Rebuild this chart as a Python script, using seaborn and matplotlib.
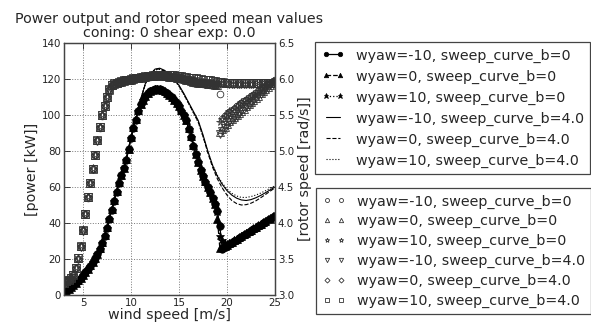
import numpy as np
import pandas as pd
import matplotlib
matplotlib.use("Agg")
import matplotlib.pyplot as plt
import seaborn as sns

# ---------------- data ----------------
wind = [3.0 + 0.25 * i for i in range(89)]          # 3 .. 25 m/s, marker series
wind_line = [3.0 + 0.5 * i for i in range(45)]      # 3 .. 25 m/s, plain line series

power_m10_b0 = [1.0, 2.0, 3.2, 4.3, 5.5, 6.8, 8.0, 9.5, 11.0, 12.7, 14.5, 16.3, 18.2, 20.3, 22.8, 25.8, 29.0, 33.0, 37.5, 42.3,
                47.5, 52.5, 57.5, 62.5, 66.5, 70.5, 75.0, 81.0, 87.5, 93.0, 97.5, 102.5, 106.0, 108.5, 110.5, 112.0, 113.2, 114.0,
                114.5, 114.5, 114.2, 113.7, 113.0, 112.0, 111.0, 109.8, 108.5, 106.8,
                105.0, 102.5, 100.0, 97.0, 92.5, 88.0, 83.0, 78.5, 74.0, 69.5, 66.0, 63.0, 60.0, 57.0, 54.0, 50.5, 46.5,
                38.5,
                25.8, 26.5, 27.3, 28.1, 29.0, 29.8, 30.6, 31.5, 32.3, 33.2, 34.0, 34.8, 35.7, 36.5, 37.4, 38.2, 39.0, 39.9, 40.7,
                41.5, 42.4, 43.2, 44.0]
power_0_b0 = [1.1, 2.1, 3.3, 4.4, 5.6, 6.9, 8.1, 9.6, 11.1, 12.8, 14.6, 16.4, 18.3, 20.5, 23.0, 26.0, 29.3, 33.3, 37.8, 42.6,
              47.8, 52.8, 57.8, 62.8, 66.8, 70.8, 75.3, 81.3, 87.8, 93.3, 97.8, 102.7, 106.2, 108.6, 110.6, 112.1, 113.3, 114.1,
              114.6, 114.6, 114.3, 113.8, 113.1, 112.1, 111.1, 109.9, 108.6, 106.9,
              105.1, 102.6, 100.1, 97.1, 92.6, 88.1, 83.1, 78.6, 74.1, 69.6, 66.1, 63.1, 60.1, 57.1, 54.1, 50.6, 42.5,
              26.0,
              26.6, 27.2, 28.0, 28.8, 29.6, 30.4, 31.2, 32.1, 32.9, 33.8, 34.6, 35.4, 36.3, 37.1, 38.0, 38.8, 39.6, 40.5, 41.3,
              42.1, 43.0, 43.8, 44.6]
power_10_b0 = [0.9, 1.9, 3.1, 4.2, 5.4, 6.7, 7.9, 9.4, 10.9, 12.6, 14.4, 16.2, 18.1, 20.2, 22.7, 25.7, 28.9, 32.8, 37.3, 42.1,
               47.3, 52.3, 57.3, 62.3, 66.3, 70.3, 74.8, 80.8, 87.3, 92.8, 97.3, 102.3, 105.8, 108.4, 110.4, 111.9, 113.1, 113.9,
               114.4, 114.4, 114.1, 113.6, 112.9, 111.9, 110.9, 109.7, 108.4, 106.7,
               104.9, 102.4, 99.9, 96.9, 92.4, 87.9, 82.9, 78.4, 73.9, 69.4, 65.9, 62.9, 59.9, 56.9, 53.9, 50.4, 46.0,
               33.0,
               30.5, 28.8, 28.5, 29.0, 29.6, 30.3, 31.0, 31.8, 32.6, 33.4, 34.2, 35.0, 35.8, 36.6, 37.5, 38.3, 39.1, 39.9, 40.8,
               41.6, 42.4, 43.2, 44.0]

power_m10_b4 = [1.0, 3.2, 5.5, 8.0, 11.0, 14.5, 18.2, 22.8, 29.0, 37.5, 47.5, 57.5, 66.5, 75.0, 87.5, 98.0, 108.5, 117.5,
                122.5, 125.5, 126.0, 124.8, 122.5, 120.0, 116.5, 112.0, 107.0, 102.0, 97.0, 89.0, 80.0, 72.0, 66.0, 61.5,
                58.0, 55.5, 53.8, 52.8, 52.5, 53.0, 54.0, 55.3, 56.8, 58.4, 60.0]
power_0_b4 = [1.0, 3.2, 5.5, 8.0, 11.0, 14.5, 18.2, 22.8, 29.0, 37.5, 47.5, 57.5, 66.5, 75.0, 87.5, 98.0, 108.3, 117.3,
              122.3, 125.3, 125.6, 124.4, 122.1, 119.6, 116.2, 111.6, 106.5, 101.4, 96.2, 88.2, 79.0, 71.0, 64.5, 59.5,
              55.5, 52.5, 50.8, 50.0, 50.2, 51.0, 52.3, 54.0, 55.8, 57.7, 59.5]
power_10_b4 = [1.0, 3.2, 5.5, 8.0, 11.0, 14.5, 18.2, 22.8, 29.0, 37.5, 47.5, 57.5, 66.5, 75.0, 87.5, 98.0, 108.7, 117.8,
               122.8, 125.0, 125.3, 124.0, 121.8, 119.4, 116.0, 111.4, 106.4, 101.2, 96.0, 88.0, 79.5, 72.2, 66.5, 62.2,
               58.8, 56.5, 55.0, 54.2, 54.2, 54.7, 55.5, 56.6, 57.9, 59.3, 60.7]

rotor_m10_b0 = [3.15, 3.18, 3.21, 3.24, 3.28, 3.37, 3.50, 3.67, 3.89, 4.12, 4.35, 4.55, 4.75, 4.94, 5.14, 5.32, 5.49, 5.62, 5.74, 5.85,
                5.90, 5.93, 5.94, 5.95, 5.96, 5.97, 5.97, 5.98, 5.99, 6.00, 6.01, 6.01, 6.02, 6.02, 6.03, 6.03, 6.03, 6.04, 6.04, 6.04,
                6.04, 6.04, 6.04, 6.03, 6.03, 6.03, 6.02, 6.02,
                6.01, 6.00, 5.99, 5.98, 5.97, 5.96, 5.95, 5.95, 5.94, 5.94, 5.93, 5.93, 5.93, 5.92, 5.92, 5.92, 5.91,
                5.79,
                5.44, 5.48, 5.51, 5.54, 5.56, 5.59, 5.62, 5.64, 5.67, 5.69, 5.71, 5.73, 5.76, 5.78, 5.80, 5.83, 5.85, 5.88, 5.90,
                5.92, 5.94, 5.96, 5.98]
rotor_0_b0 = [3.16, 3.19, 3.22, 3.25, 3.29, 3.38, 3.51, 3.68, 3.90, 4.13, 4.36, 4.56, 4.76, 4.95, 5.15, 5.33, 5.50, 5.63, 5.75, 5.85,
              5.91, 5.93, 5.95, 5.96, 5.96, 5.97, 5.98, 5.98, 5.99, 6.00, 6.01, 6.02, 6.02, 6.03, 6.03, 6.04, 6.04, 6.04, 6.04, 6.05,
              6.05, 6.04, 6.04, 6.04, 6.03, 6.03, 6.03, 6.02,
              6.02, 6.01, 6.00, 5.99, 5.98, 5.97, 5.96, 5.96, 5.95, 5.95, 5.94, 5.94, 5.93, 5.93, 5.93, 5.92, 5.92,
              5.26, 5.30, 5.34, 5.38, 5.41, 5.44, 5.47, 5.50, 5.53, 5.56, 5.59, 5.62, 5.65, 5.68, 5.71, 5.74, 5.77, 5.80, 5.83,
              5.86, 5.89, 5.92, 5.94, 5.97]
rotor_10_b0 = [3.15, 3.19, 3.21, 3.24, 3.28, 3.38, 3.50, 3.68, 3.90, 4.12, 4.36, 4.55, 4.75, 4.95, 5.15, 5.33, 5.50, 5.63, 5.75, 5.86,
               5.91, 5.94, 5.95, 5.96, 5.97, 5.97, 5.98, 5.99, 6.00, 6.00, 6.01, 6.02, 6.02, 6.03, 6.03, 6.04, 6.04, 6.04, 6.05, 6.05,
               6.05, 6.05, 6.04, 6.04, 6.04, 6.03, 6.03, 6.03,
               6.02, 6.01, 6.00, 5.99, 5.98, 5.98, 5.97, 5.96, 5.96, 5.95, 5.95, 5.94, 5.94, 5.94, 5.93, 5.93, 5.93,
               5.40, 5.45, 5.49, 5.52, 5.55, 5.57, 5.60, 5.63, 5.65, 5.68, 5.70, 5.72, 5.74, 5.77, 5.79, 5.81, 5.84, 5.86, 5.89,
               5.91, 5.93, 5.95, 5.97, 5.99]
rotor_m10_b4 = [3.16, 3.19, 3.21, 3.24, 3.28, 3.37, 3.51, 3.67, 3.89, 4.13, 4.36, 4.55, 4.75, 4.95, 5.14, 5.33, 5.50, 5.62, 5.75, 5.85,
                5.91, 5.93, 5.94, 5.95, 5.96, 5.97, 5.98, 5.98, 5.99, 6.00, 6.01, 6.02, 6.02, 6.03, 6.03, 6.03, 6.04, 6.04, 6.04, 6.04,
                6.04, 6.04, 6.04, 6.03, 6.03, 6.03, 6.02, 6.02,
                6.01, 6.00, 5.99, 5.98, 5.97, 5.97, 5.96, 5.95, 5.95, 5.94, 5.94, 5.93, 5.93, 5.93, 5.92, 5.92, 5.92,
                5.24, 5.28, 5.32, 5.36, 5.40, 5.43, 5.46, 5.49, 5.52, 5.55, 5.58, 5.61, 5.64, 5.67, 5.70, 5.73, 5.76, 5.79, 5.82,
                5.85, 5.88, 5.91, 5.93, 5.96]
rotor_0_b4 = [3.16, 3.19, 3.21, 3.24, 3.28, 3.38, 3.50, 3.68, 3.90, 4.13, 4.36, 4.55, 4.75, 4.95, 5.15, 5.33, 5.50, 5.63, 5.75, 5.86,
              5.91, 5.94, 5.95, 5.96, 5.97, 5.98, 5.98, 5.99, 6.00, 6.01, 6.02, 6.02, 6.03, 6.03, 6.04, 6.04, 6.04, 6.05, 6.05, 6.05,
              6.05, 6.05, 6.05, 6.05, 6.05, 6.05, 6.04, 6.04,
              6.03, 6.02, 6.01, 6.00, 6.00, 5.99, 5.98, 5.97, 5.97, 5.96, 5.96, 5.95, 5.95, 5.95, 5.94, 5.94, 5.94,
              5.94, 5.94, 5.94, 5.94, 5.93, 5.93, 5.93, 5.93, 5.93, 5.93, 5.93, 5.93, 5.93, 5.93, 5.93, 5.93, 5.94, 5.94, 5.94,
              5.94, 5.94, 5.94, 5.94, 5.94]
rotor_10_b4 = [3.16, 3.19, 3.21, 3.24, 3.28, 3.38, 3.51, 3.68, 3.90, 4.13, 4.36, 4.55, 4.75, 4.95, 5.15, 5.33, 5.50, 5.63, 5.75, 5.86,
               5.91, 5.94, 5.95, 5.96, 5.97, 5.98, 5.98, 5.99, 6.00, 6.01, 6.02, 6.02, 6.03, 6.03, 6.04, 6.04, 6.04, 6.05, 6.05, 6.05,
               6.05, 6.05, 6.05, 6.05, 6.05, 6.05, 6.05, 6.04,
               6.04, 6.04, 6.03, 6.03, 6.02, 6.02, 6.01, 6.01, 6.00, 6.00, 5.99, 5.99, 5.98, 5.98, 5.97, 5.97, 5.96,
               5.96, 5.96, 5.95, 5.95, 5.95, 5.95, 5.95, 5.95, 5.94, 5.94, 5.94, 5.94, 5.94, 5.94, 5.94, 5.94, 5.94, 5.95, 5.95,
               5.95, 5.95, 5.95, 5.95, 5.95]

labels = ["wyaw=-10, sweep_curve_b=0", "wyaw=0, sweep_curve_b=0", "wyaw=10, sweep_curve_b=0",
          "wyaw=-10, sweep_curve_b=4.0", "wyaw=0, sweep_curve_b=4.0", "wyaw=10, sweep_curve_b=4.0"]
title_text = "Power output and rotor speed mean values\nconing: 0 shear exp: 0.0"
power_ticks = [0, 20, 40, 60, 80, 100, 120, 140]
rotor_ticks = [3.0, 3.5, 4.0, 4.5, 5.0, 5.5, 6.0, 6.5]
wind_ticks = [5, 10, 15, 20, 25]

# ---------------- style ----------------
sns.set_style("white")
plt.rcParams["font.family"] = ["DejaVu Sans"]
plt.rcParams["xtick.direction"] = "in"
plt.rcParams["ytick.direction"] = "in"

FS = 10.3
TFS = 7.4

fig = plt.figure(figsize=(5.91, 3.23), dpi=100)
fig.patch.set_facecolor("white")
ax = fig.add_axes([63.8 / 591, 1 - 295 / 323, (275 - 63.8) / 591, (295 - 43) / 323])
ax2 = ax.twinx()

handles_p = []
handles_r = []

# power, sweep_curve_b=0 (markers + lines)
for vals, mk, ls, ms in [(power_m10_b0, "o", "-", 5.4), (power_0_b0, "^", "--", 5.4), (power_10_b0, "*", ":", 6.2)]:
    sns.lineplot(x=wind, y=vals, ax=ax, color="black", marker=mk, linestyle=ls, linewidth=0.9,
                 markersize=ms, markeredgecolor="black", markerfacecolor="black", markeredgewidth=0.5,
                 estimator=None, sort=False, legend=False)
    handles_p.append(ax.lines[-1])

# power, sweep_curve_b=4.0 (plain lines)
for vals, ls in [(power_m10_b4, "-"), (power_0_b4, "--"), (power_10_b4, ":")]:
    sns.lineplot(x=wind_line, y=vals, ax=ax, color="black", linestyle=ls, linewidth=0.8,
                 estimator=None, sort=False, legend=False)
    handles_p.append(ax.lines[-1])

# rotor speed (hollow markers)
for vals, mk, ms in [(rotor_m10_b0, "o", 4.8), (rotor_0_b0, "^", 5.2), (rotor_10_b0, "*", 5.6),
                     (rotor_m10_b4, "v", 5.2), (rotor_0_b4, "D", 4.3), (rotor_10_b4, "s", 5.2)]:
    sns.lineplot(x=wind, y=vals, ax=ax2, color="#333333", marker=mk, linestyle="none",
                 markersize=ms, markeredgecolor="#333333", markerfacecolor="none", markeredgewidth=0.6,
                 estimator=None, sort=False, legend=False)
    handles_r.append(ax2.lines[-1])

# axes
ax.set_xlim(3, 25)
ax.set_ylim(0, 140)
ax2.set_ylim(3.0, 6.5)
ax.set_xticks(wind_ticks)
ax.set_yticks(power_ticks)
ax2.set_yticks(rotor_ticks)
ax2.set_yticklabels([f"{t:.1f}" for t in rotor_ticks])
ax.grid(True, color="#777777", linestyle=":", linewidth=0.7)
ax.tick_params(axis="both", labelsize=TFS, length=4, width=0.6, colors="#222222", top=True, pad=2)
ax2.tick_params(axis="y", labelsize=TFS, length=4, width=0.6, colors="#222222", pad=2)
for a in (ax, ax2):
    for s in a.spines.values():
        s.set_color("#444444")
        s.set_linewidth(0.9)

ax.set_xlabel("wind speed [m/s]", fontsize=FS, labelpad=0)
ax.set_ylabel("[power [kW]]", fontsize=FS, labelpad=2)
ax2.set_ylabel("[rotor speed [rad/s]]", fontsize=FS, labelpad=3)
ax.set_title(title_text, fontsize=FS, pad=4, linespacing=1.05)

leg_kw = dict(loc="upper left", fontsize=FS, numpoints=2, handlelength=1.6, handletextpad=0.8,
              borderpad=0.45, borderaxespad=0.0, fancybox=False, framealpha=1,
              edgecolor="#444444", markerscale=0.6)
leg1 = fig.legend(handles_p, labels, bbox_to_anchor=(315 / 591, 1 - 42 / 323), labelspacing=0.48, **leg_kw)
leg2 = fig.legend(handles_r, labels, bbox_to_anchor=(316 / 591, 1 - 188 / 323), labelspacing=0.40, **leg_kw)
for lg in (leg1, leg2):
    lg.get_frame().set_linewidth(0.9)

fig.savefig("out.png", dpi=100, facecolor="white")
